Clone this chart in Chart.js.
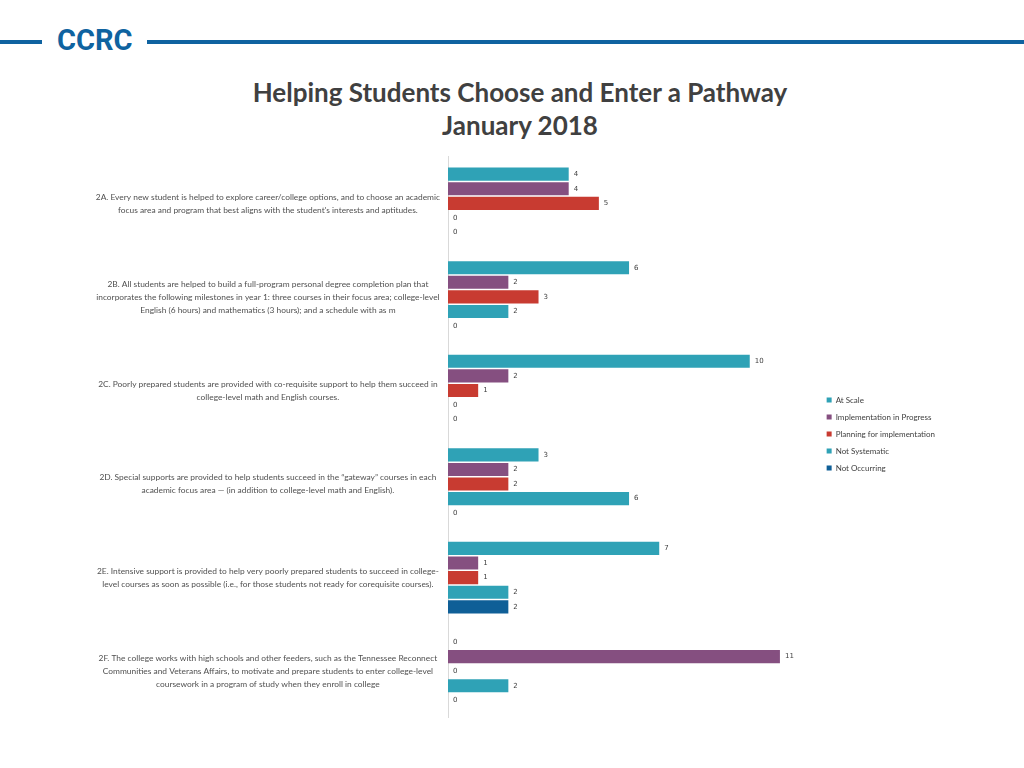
<!DOCTYPE html>
<html>
<head>
<meta charset="utf-8">
<script src="https://cdn.jsdelivr.net/npm/chart.js@4/dist/chart.umd.min.js"></script>
<style>
  body { margin: 0; background: #fff; width: 1024px; height: 768px; position: relative; overflow: hidden; font-family: Lato, "Liberation Sans", sans-serif; }
  .rule { position: absolute; top: 40px; height: 4px; background: #0f63a0; }
  .logo { position: absolute; left: 57px; top: 23px; font: bold 29px "Liberation Sans Narrow", "Roboto", sans-serif; color: #0f63a0; }
  .title { position: absolute; left: 0; width: 1040px; top: 76px; text-align: center; font: bold 26px Lato, sans-serif; line-height: 33px; color: #404040; }
  #myChart { position: absolute; left: 0; top: 137px; }
</style>
</head>
<body>
<div class="rule" style="left:0;width:42px"></div>
<div class="logo">CCRC</div>
<div class="rule" style="left:147px;right:0"></div>
<div class="title">Helping Students Choose and Enter a Pathway<br>January 2018</div>
<canvas id="myChart" width="955" height="594"></canvas>
<script>
const categories = [
    ["2A. Every new student is helped to explore career/college options, and to choose an academic", "focus area and program that best aligns with the student's interests and aptitudes."],
    ["2B. All students are helped to build a full-program personal degree completion plan that", "incorporates the following milestones in year 1: three courses in their focus area; college-level", "English (6 hours) and mathematics (3 hours); and a schedule with as m"],
    ["2C. Poorly prepared students are provided with co-requisite support to help them succeed in", "college-level math and English courses."],
    ["2D. Special supports are provided to help students succeed in the \u201cgateway\u201d courses in each", "academic focus area \u2014 (in addition to college-level math and English)."],
    ["2E. Intensive support is provided to help very poorly prepared students to succeed in college-", "level courses as soon as possible (i.e., for those students not ready for corequisite courses)."],
    ["2F. The college works with high schools and other feeders, such as the Tennessee Reconnect", "Communities and Veterans Affairs, to motivate and prepare students to enter college-level", "coursework in a program of study when they enroll in college"]
];

const atScale = [4, 6, 10, 3, 7, 0];
const inProgress = [4, 2, 2, 2, 1, 11];
const planning = [5, 3, 1, 2, 1, 0];
const notSystematic = [0, 2, 0, 6, 2, 2];
const notOccurring = [0, 0, 0, 0, 2, 0];

const seriesNames = ["At Scale", "Implementation in Progress", "Planning for implementation", "Not Systematic", "Not Occurring"];
const seriesColors = ["#2fa2b6", "#854f80", "#c83b31", "#2fa2b6", "#0f5f97"];

const valueLabels = {
    id: "valueLabels",
    afterDatasetsDraw(chart) {
        const ctx = chart.ctx;
        ctx.save();
        ctx.font = "7px 'DejaVu Sans', sans-serif";
        ctx.fillStyle = "#404040";
        ctx.textAlign = "left";
        ctx.textBaseline = "middle";
        chart.data.datasets.forEach((ds, i) => {
            chart.getDatasetMeta(i).data.forEach((bar, j) => {
                ctx.fillText(ds.data[j], bar.x + 5, bar.y);
            });
        });
        ctx.restore();
    }
};

const chartEl = document.getElementById("myChart");

const data = {
    labels: categories,
    datasets: [
        { label: seriesNames[0], data: atScale, backgroundColor: seriesColors[0] },
        { label: seriesNames[1], data: inProgress, backgroundColor: seriesColors[1] },
        { label: seriesNames[2], data: planning, backgroundColor: seriesColors[2] },
        { label: seriesNames[3], data: notSystematic, backgroundColor: seriesColors[3] },
        { label: seriesNames[4], data: notOccurring, backgroundColor: seriesColors[4] }
    ]
};

const config = {
    type: "bar",
    data: data,
    options: {
        indexAxis: "y",
        responsive: false,
        animation: false,
        categoryPercentage: 0.78,
        barPercentage: 0.9,
        layout: { padding: { top: 0, bottom: 0, left: 80, right: 10 } },
        scales: {
            x: {
                display: false,
                min: 0,
                max: 12.25
            },
            y: {
                afterFit: (scale) => { scale.width = 368; },
                grid: { display: false },
                border: { display: true, color: "#d9d9d9" },
                ticks: {
                    crossAlign: "center",
                    padding: 0,
                    color: "#505050",
                    font: { family: "Lato", size: 8.4, lineHeight: 1.55 },
                    autoSkip: false
                }
            }
        },
        plugins: {
            legend: {
                position: "right",
                labels: {
                    boxWidth: 5,
                    boxHeight: 5,
                    padding: 9,
                    color: "#404040",
                    font: { family: "Lato", size: 8 }
                }
            },
            tooltip: { enabled: false }
        }
    },
    plugins: [valueLabels]
};

myChart = new Chart(chartEl, config);
</script>
</body>
</html>
